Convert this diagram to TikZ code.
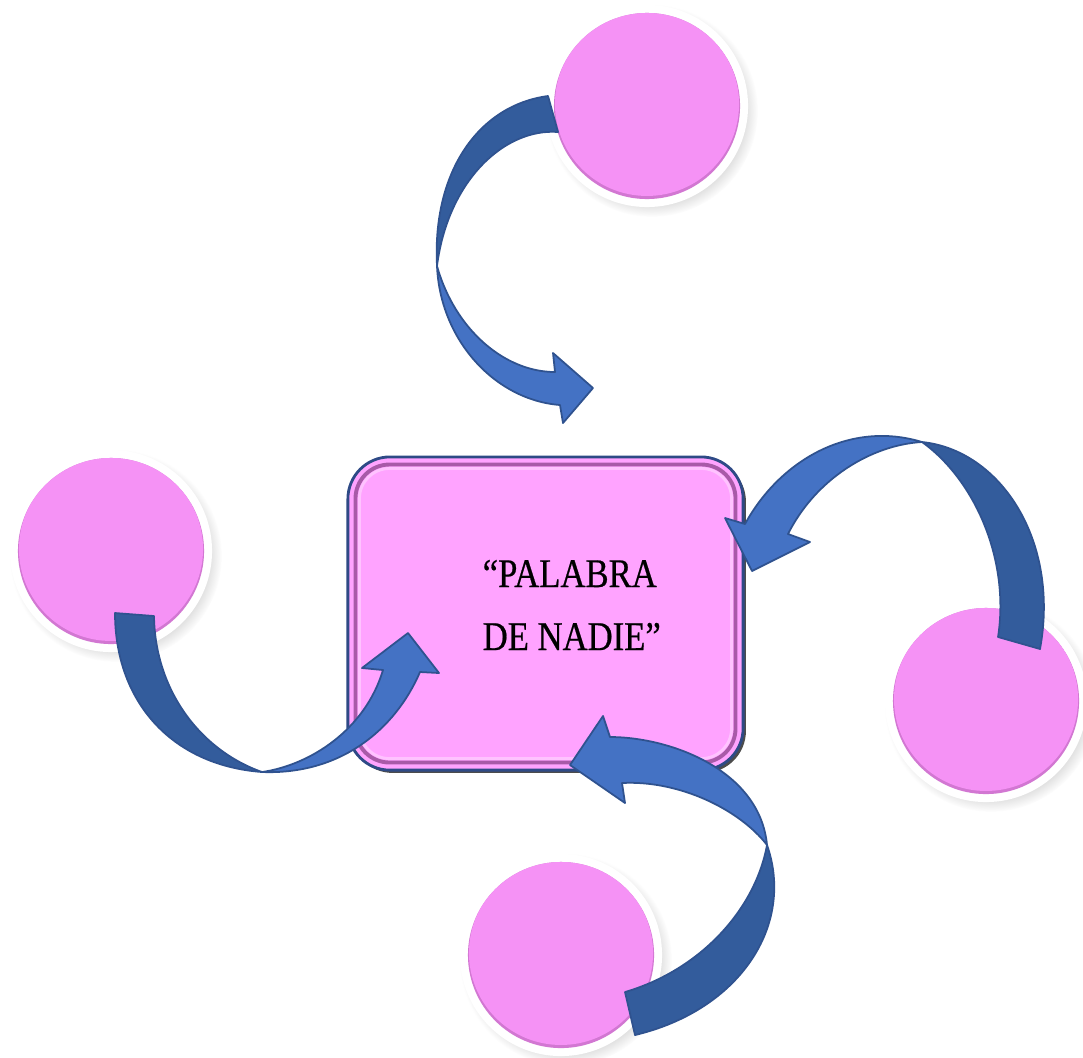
\documentclass[tikz,border=0pt]{standalone}
\usepackage{fontspec}
\usepackage{xcolor}
\usetikzlibrary{calc,shadows}
\newfontfamily\boxfont[FakeStretch=0.85,FakeBold=0.5]{Liberation Serif}

\definecolor{bubblepink}{HTML}{F592F5}
\definecolor{bubblerim}{HTML}{D277D2}
\definecolor{boxpink}{HTML}{FFA3FF}
\definecolor{boxline}{HTML}{2E4A86}
\definecolor{bevel}{HTML}{A85AA8}
\definecolor{arrowdark}{HTML}{335C9C}
\definecolor{arrowlight}{HTML}{4472C4}
\definecolor{arrowline}{HTML}{2F528F}

\tikzset{
  ring/.style={circle, inner sep=0pt, minimum size=2.02cm, fill=white,
    circular drop shadow={shadow scale=1.05, opacity=0.3}},
  bubble/.style={circle, inner sep=0pt, minimum size=1.86cm, fill=bubblerim,
    path picture={\fill[bubblepink] ([yshift=0.6pt]path picture bounding box.center) circle (0.92cm);}},
  arrowback/.style={fill=arrowdark, draw=arrowline, line width=0.5pt, line join=round},
  arrowfront/.style={fill=arrowlight, draw=arrowline, line width=0.5pt, line join=round}
}

\begin{document}
\begin{tikzpicture}[x=0.01cm, y=-0.01cm]
    \useasboundingbox (0,0) rectangle (1083,1057);

    % the four circles
    \foreach \n/\cx/\cy in {T/647/106, L/111/551, R/986/701, B/561/955}{
      \node[ring] (ring\n) at (\cx,\cy) {};
      \node[bubble] (bubble\n) at (\cx,\cy) {};
    }

    % centre box
    \node[rectangle, rounded corners=0.42cm, minimum width=3.95cm, minimum height=3.13cm,
      fill=boxpink, draw=boxline, line width=0.8pt,
      drop shadow={shadow xshift=0.8pt, shadow yshift=-0.8pt, opacity=0.7, fill=black}]
      (box) at (545.5,613.5) {};
    \draw[bevel, line width=1.1pt, rounded corners=0.34cm]
      ($(box.south west)+(9,-9)$) rectangle ($(box.north east)+(-9,9)$);
    \draw[white, opacity=0.35, line width=0.8pt, rounded corners=0.3cm]
      ($(box.south west)+(13,-13)$) rectangle ($(box.north east)+(-13,13)$);

    \node[font={\boxfont\fontsize{11.6}{17.9}\selectfont}, align=left, anchor=west, inner sep=0pt]
      (title) at (482,605) {“PALABRA\\DE NADIE”};

    % top arrow
    \filldraw[arrowback] (548,96) .. controls (480,105) and (432,170) .. (437,266)
      .. controls (448,180) and (505,128) .. (558,132) -- cycle;
    \filldraw[arrowfront] (437,266) .. controls (440,340) and (495,400) .. (560,405)
      -- (563,423) -- (593,388) -- (553,353) -- (555,372)
      .. controls (505,372) and (455,330) .. (437,266) -- cycle;

    % right arrow
    \filldraw[arrowback] (1040,649) .. controls (1060,540) and (1000,450) .. (922,442)
      .. controls (975,480) and (1010,560) .. (998,637) -- cycle;
    \filldraw[arrowfront] (922,442) .. controls (850,420) and (780,460) .. (745,524)
      -- (725,518) -- (752,571) -- (810,542) -- (788,534)
      .. controls (815,480) and (870,445) .. (922,442) -- cycle;

    % left arrow
    \filldraw[arrowback] (115,613) .. controls (115,700) and (170,765) .. (262,772)
      .. controls (200,750) and (155,690) .. (154,616) -- cycle;
    \filldraw[arrowfront] (262,772) .. controls (340,775) and (395,730) .. (420,672)
      -- (439,673) -- (408,633) -- (362,668) -- (383,670)
      .. controls (365,730) and (310,765) .. (262,772) -- cycle;

    % bottom arrow
    \filldraw[arrowback] (625,992) .. controls (700,970) and (755,910) .. (767,845)
      .. controls (795,925) and (740,1010) .. (635,1035) -- cycle;
    \filldraw[arrowfront] (767,845) .. controls (760,770) and (670,737) .. (610,737)
      -- (603,716) -- (570,765) -- (625,803) -- (622,783)
      .. controls (680,780) and (740,810) .. (767,845) -- cycle;
\end{tikzpicture}
\end{document}
